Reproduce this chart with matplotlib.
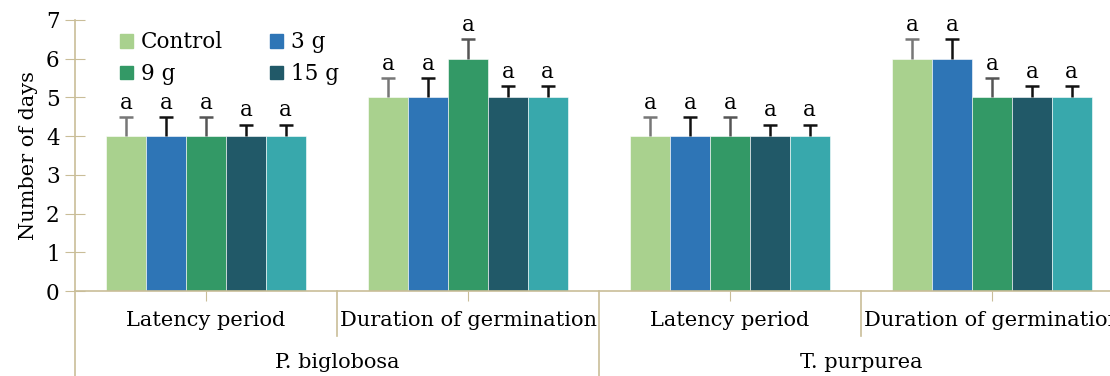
import numpy as np
import matplotlib
matplotlib.use("Agg")
import matplotlib.pyplot as plt
import matplotlib.patches as patches
import matplotlib.transforms as mtransforms

# Daten
kategorien = ["Latency period", "Duration of germination",
              "Latency period", "Duration of germination"]
arten = ["P. biglobosa", "T. purpurea"]
serien = ["Control", "3 g", "9 g", "15 g", "20 g"]
werte = [
    [4, 5, 4, 6],   # Control
    [4, 5, 4, 6],   # 3 g
    [4, 6, 4, 5],   # 9 g
    [4, 5, 4, 5],   # 15 g
    [4, 5, 4, 5],   # 20 g
]
fehler = [
    [0.5, 0.5, 0.5, 0.5],
    [0.5, 0.5, 0.5, 0.5],
    [0.5, 0.5, 0.5, 0.5],
    [0.3, 0.3, 0.3, 0.3],
    [0.3, 0.3, 0.3, 0.3],
]
buchstaben = "a"

farben = ["#a9d18e", "#2e75b6", "#339966", "#215968", "#38a8ac"]
fehlerfarben = ["#777777", "#111111", "#555555", "#111111", "#111111"]
achsfarbe = "#c9bd98"

plt.rcParams['font.family'] = ['DejaVu Serif']

fig = plt.figure(figsize=(11.1, 3.76), dpi=100)
ax = fig.add_axes([75 / 1110, 1 - 291 / 376, 1048 / 1110, 271 / 376])

x = np.arange(len(kategorien))
breite = 0.152
for i, name in enumerate(serien):
    pos = x + (i - 2) * breite
    oben = np.array(werte[i]) + np.array(fehler[i])
    ax.bar(pos, werte[i], breite, color=farben[i], label=name,
           edgecolor="white", linewidth=0.4)
    ax.vlines(pos, werte[i], oben, color=fehlerfarben[i], lw=1.8)
    ax.plot(pos, oben, ls="none", marker="_", markersize=10, mew=1.8,
            color=fehlerfarben[i])
    for px, o in zip(pos, oben):
        ax.text(px, o + 0.08, buchstaben, ha="center", va="bottom", fontsize=15.5)

ax.set_xlim(-0.5, 3.5)
ax.set_ylim(0, 7)
ax.set_yticks(range(8))
ax.tick_params(axis="y", direction="inout", length=14, color=achsfarbe,
               labelsize=15.5, pad=4)
ax.set_xticks(x)
ax.set_xticklabels([])
ax.tick_params(axis="x", direction="out", length=7, color=achsfarbe)
ax.set_ylabel("Number of days", fontsize=15, labelpad=6)

for s in ["top", "right"]:
    ax.spines[s].set_visible(False)
for s in ["left", "bottom"]:
    ax.spines[s].set_color(achsfarbe)
    ax.spines[s].set_linewidth(1.2)

# Kategorie-Beschriftungen und Trennlinien unter der Achse
trans = mtransforms.blended_transform_factory(ax.transData, ax.transAxes)
for xi, k in zip(x, kategorien):
    ax.text(xi, -0.11, k, transform=trans, ha="center", va="center", fontsize=15)
for j, a in enumerate(arten):
    ax.text(0.5 + 2 * j, -0.265, a, transform=trans, ha="center", va="center",
            fontsize=15)
for xs, unten in [(-0.5, -0.32), (0.5, -0.165), (1.5, -0.32), (2.5, -0.165)]:
    ax.plot([xs, xs], [0, unten], transform=trans, color=achsfarbe, lw=1.2,
            clip_on=False)

# Legende (nur vier Eintraege sichtbar, zeilenweise)
reihenfolge = [0, 2, 1, 3]
handles = [patches.Patch(color=farben[i]) for i in reihenfolge]
ax.legend(handles, [serien[i] for i in reihenfolge], loc="upper left",
          bbox_to_anchor=(0.035, 0.99), ncol=2, frameon=False, fontsize=15.5,
          handlelength=0.6, handleheight=0.6, handletextpad=0.35,
          columnspacing=2.2, labelspacing=0.45, borderaxespad=0)

fig.savefig("out.png", dpi=100)
